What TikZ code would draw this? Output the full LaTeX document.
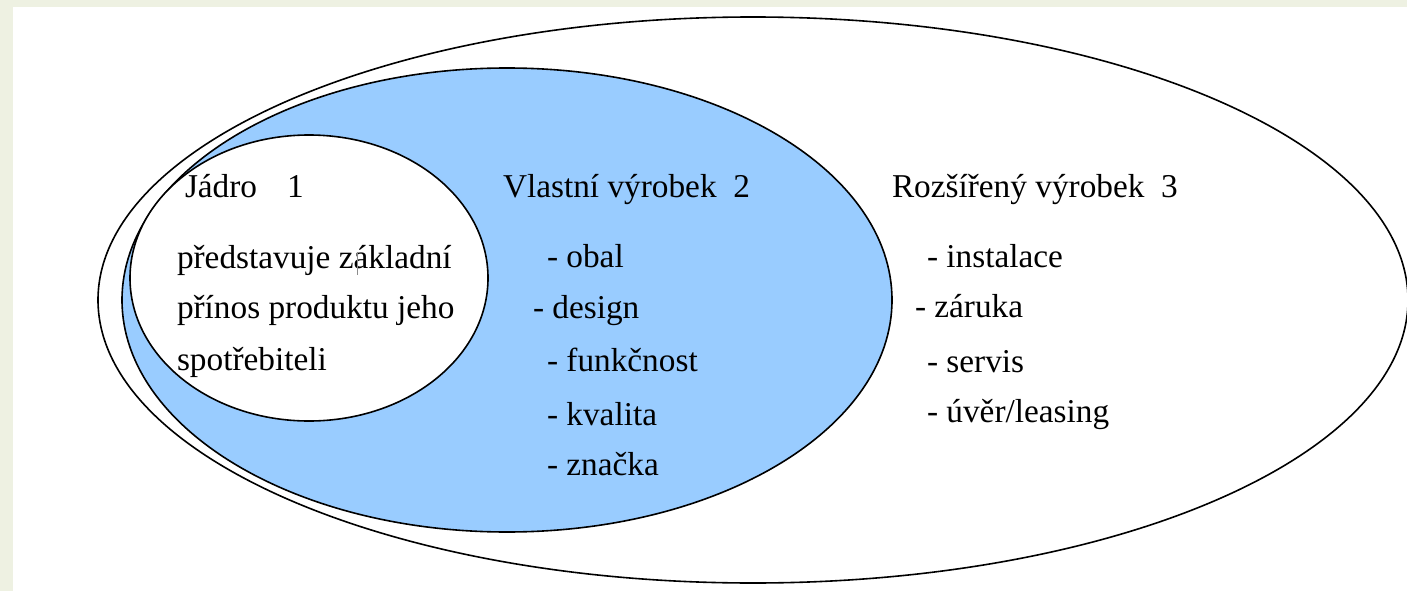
\documentclass[tikz,border=0pt]{standalone}
\usepackage{fontspec}
\setmainfont{Liberation Serif}
\definecolor{bgstrip}{RGB}{238,241,226}
\definecolor{blueband}{RGB}{153,204,255}
\tikzset{
  ring/.style={draw=black, line width=1.6pt},
  txt/.style={anchor=base west, inner sep=0pt, outer sep=0pt, text=black, font=\fontsize{33.3}{40}\selectfont}
}
\begin{document}
\begin{tikzpicture}[x=1pt,y=-1pt]
\useasboundingbox (0,0) rectangle (1407,591);
% slide background
\fill[bgstrip] (0,0) rectangle (1407,591);
\fill[white] (13,7) rectangle (1407,591);
% ellipses
\draw[ring, fill=white] (753,300) ellipse [x radius=655pt, y radius=283pt];
\draw[ring, fill=blueband] (507,300) ellipse [x radius=385pt, y radius=232pt];
\draw[ring, fill=white] (309,278) ellipse [x radius=179pt, y radius=143pt];
% core
\node[txt] (j0) at (185,197) {Jádro\hspace{0.9em}1};
\node[txt] (j1) at (177,268) {představuje základní};
\node[txt] (j2) at (177,318) {přínos produktu jeho};
\node[txt] (j3) at (177,370) {spotřebiteli};
\draw[black!45, line width=0.8pt] (357,252) -- (357,275);
% actual product
\node[txt] (v0) at (503,197) {Vlastní výrobek\hspace{0.5em}2};
\node[txt] (v1) at (547,267) {- obal};
\node[txt] (v2) at (533,318) {- design};
\node[txt] (v3) at (547,371) {- funkčnost};
\node[txt] (v4) at (547,425) {- kvalita};
\node[txt] (v5) at (547,475) {- značka};
% augmented product
\node[txt] (r0) at (892,197) {Rozšířený výrobek\hspace{0.5em}3};
\node[txt] (r1) at (927,267) {- instalace};
\node[txt] (r2) at (915,317) {- záruka};
\node[txt] (r3) at (927,372) {- servis};
\node[txt] (r4) at (927,422) {- úvěr/leasing};
\end{tikzpicture}
\end{document}
